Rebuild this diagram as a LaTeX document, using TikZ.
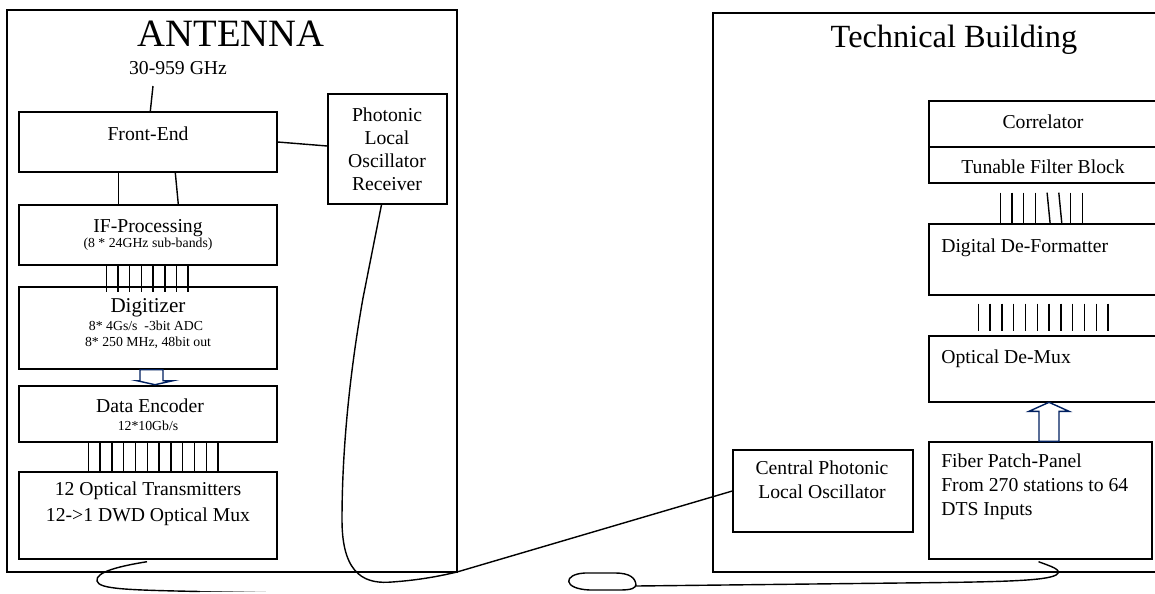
\documentclass[tikz,border=0pt]{standalone}
\usepackage{fontspec}
\setmainfont{Liberation Serif}
\usetikzlibrary{calc,fit}
\definecolor{navyline}{RGB}{0,32,96}
\tikzset{
	box/.style={draw, line width=1pt, inner sep=0pt},
	wire/.style={line width=1pt},
	hollow/.style={draw=navyline, line width=1pt, fill=white},
	txt/.style={font=\fontsize{14}{16.3}\selectfont, inner sep=0pt},
	small/.style={font=\fontsize{9.8}{11}\selectfont, inner sep=0pt},
	title/.style={inner sep=0pt, anchor=base}
}
\begin{document}
\begin{tikzpicture}[x=0.025cm, y=-0.025cm]
				  \useasboundingbox (0,0) rectangle (1155,593);
				  \clip (0,0) rectangle (1155,593);
				  \node[box, fit={(7,10) (457,572)}] (ant) {};
				  \node[box, fit={(713,13) (1162,572)}] (tech) {};
				  \node[title, font=\fontsize{27.5}{30}\selectfont] (antt) at (231,46) {ANTENNA};
				  \node[title, font=\fontsize{23}{26}\selectfont] (techt) at (954,47) {Technical Building};
				  \node[txt, anchor=base] (ghz) at (178,74) {30-959 GHz};
				  \node[box, fit={(19,112) (277,172)}] (fe) {};
				  \node[box, fit={(328,94) (447,204)}] (plo) {};
				  \node[box, fit={(19,205) (277,265)}] (ifp) {};
				  \node[box, fit={(19,287) (277,369)}] (dig) {};
				  \node[box, fit={(19,386) (277,442)}] (enc) {};
				  \node[box, fit={(19,472) (277,559)}] (otx) {};
				  \node[box, fit={(929,101) (1160,147)}] (cor) {};
				  \node[box, fit={(929,147) (1160,183)}] (tfb) {};
				  \node[box, fit={(929,224) (1160,295)}] (ddf) {};
				  \node[box, fit={(929,336) (1160,402)}] (odm) {};
				  \node[box, fit={(929,442) (1152,559)}] (fpp) {};
				  \node[box, fit={(733,450) (913,532)}] (cplo) {};
				  \node[txt, anchor=base] (fet) at (148,140) {Front-End};
				  \node[txt, align=center] (plot) at (387,149) {Photonic\\Local\\Oscillator\\Receiver};
				  \node[txt, anchor=base] (ifpt) at (148,232) {IF-Processing};
				  \node[small, anchor=base] (ifps) at (148,247) {(8 * 24GHz sub-bands)};
				  \node[txt, font=\fontsize{15}{17}\selectfont, anchor=base] (digt) at (148,312) {Digitizer};
				  \node[small, anchor=base] (diga) at (146,330) {8* 4Gs/s \ -3bit ADC};
				  \node[small, anchor=base] (digb) at (148,346) {8* 250 MHz, 48bit out};
				  \node[txt, anchor=base] (enct) at (150,412) {Data Encoder};
				  \node[small, anchor=base] (encs) at (148,430) {12*10Gb/s};
				  \node[txt, anchor=base] (otxa) at (148,495) {12 Optical Transmitters};
				  \node[txt, anchor=base] (otxb) at (148,521) {12->1 DWD Optical Mux};
				  \node[txt, anchor=base] (cort) at (1043,128) {Correlator};
				  \node[txt, anchor=base] (tfbt) at (1043,173) {Tunable Filter Block};
				  \node[txt, anchor=base west] (ddft) at (941,252) {Digital De-Formatter};
				  \node[txt, anchor=base west] (odmt) at (941,363) {Optical De-Mux};
				  \node[txt, font=\fontsize{14}{17}\selectfont, align=left, anchor=north west] (fppt) at (941,454) {Fiber Patch-Panel\\From 270 stations to 64\\DTS Inputs};
				  \node[txt, font=\fontsize{14}{17}\selectfont, align=center] (cplot) at (822,480) {Central Photonic\\Local Oscillator};
				  \coordinate (feed) at (153,86);
				  \draw[wire] (feed) -- ($(fe.north west)+(132,0)$);
				  \draw[wire] (fe.east) -- ($(plo.west)+(0,-3)$);
				  \draw[wire] ($(fe.south west)+(100,0)$) -- ($(ifp.north west)+(100,0)$);
				  \draw[wire] ($(fe.south west)+(157,0)$) -- ($(ifp.north west)+(160,0)$);
				  \foreach \i in {0,...,7}
				  	\draw[wire] ($(ifp.south west)+(88+11.7*\i,0)$) -- ($(dig.north west)+(88+11.7*\i,6)$);
				  \foreach \i in {0,...,11}
				  	\draw[wire] ($(enc.south west)+(70+11.8*\i,0)$) -- ($(otx.north west)+(70+11.8*\i,0)$);
				  \foreach \i/\s in {0/0,1/0,2/0,3/0,4/3,5/3,6/0,7/0}
				  	\draw[wire] ($(tfb.south west)+(72+11.7*\i,9)$) -- ($(ddf.north west)+(72+11.7*\i+\s,0)$);
				  \foreach \i in {0,...,11}
				  	\draw[wire] ($(ddf.south west)+(50+11.8*\i,8)$) -- ($(odm.north west)+(50+11.8*\i,-4)$);
				  \draw[hollow] ($(dig.south)+(-8,0)$) -- ++(0,11) -- ++(-3,0) -- ++(18,4) -- ++(18,-4) -- ++(-10,0) -- ++(0,-11) -- cycle;
				  \draw[hollow] ($(fpp.north)+(-1.5,0)$) -- ++(0,-30) -- ++(-10,0) -- ++(20,-9) -- ++(20,9) -- ++(-10,0) -- ++(0,30) -- cycle;
				  \coordinate (a) at (363,298);
				  \coordinate (b) at (342,520);
				  \coordinate (c) at (392,582);
				  \coordinate (d) at (457,572);
				  \draw[wire] ($(plo.south)+(-6,0)$) -- (a) .. controls (352,360) and (342,440) .. (b) .. controls (342,578) and (368,584) .. (c) .. controls (420,580) and (440,576) .. (d) -- (cplo.west);
				  \coordinate (e) at (97,581);
				  \coordinate (f) at (200,591.5);
				  \draw[wire] ($(otx.south)+(-1,2)$) .. controls (120,566) and (95,572) .. (e) .. controls (99,589) and (125,590) .. (f);
				  \foreach \i/\c in {0/85,1/70,2/55,3/40,4/25,5/12}
				  	\draw[wire, draw=black!\c] ($(f)+(11*\i,0)$) -- ($(f)+(11*\i+11,0)$);
				  \coordinate (g) at (1056,575);
				  \coordinate (h) at (636,586);
				  \draw[wire] ($(fpp.south)+(-2,2)$) .. controls (1050,566) and (1064,570) .. (g) .. controls (1045,581) and (1000,582) .. (900,583) -- (h) .. controls (636,578) and (630,573) .. (615,573) -- (585,573) .. controls (563,574) and (562,589) .. (590,590) -- (620,590) .. controls (632,590) and (636,588) .. (636,584);
				\end{tikzpicture}
\end{document}
